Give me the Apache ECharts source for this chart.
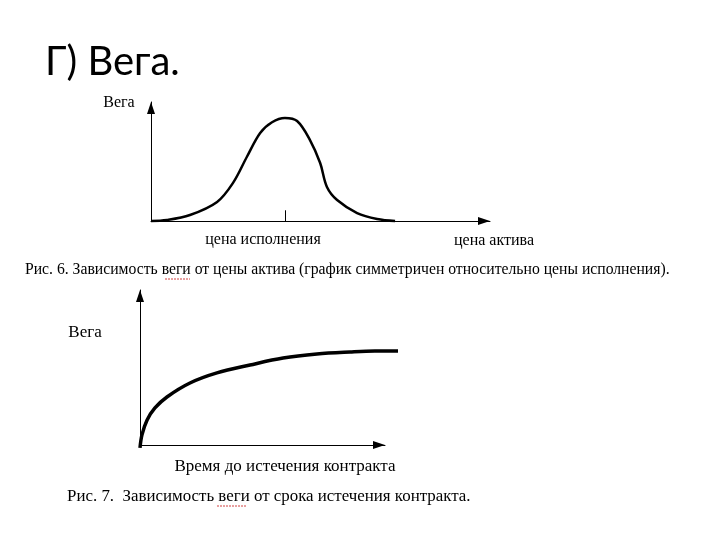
<!DOCTYPE html>
<html>
<head>
<meta charset="utf-8">
<script src="https://cdn.jsdelivr.net/npm/echarts@6/dist/echarts.min.js"></script>
<style>html,body{margin:0;padding:0;background:#fff}#c{width:720px;height:540px}</style>
</head>
<body>
<div id="c"></div>
<script>
// Fig. 6: vega vs underlying price (arbitrary units)
const priceX = [0, 4.7, 11.5, 19.5, 24.2, 28.3, 32.2, 35.7, 39.5, 43.1, 46.9, 49.9, 51.9, 54.9, 60.8, 66.7, 72];
const vegaByPrice = [0, 0.8, 5, 16, 32, 54, 74, 83, 86.6, 84, 68, 48.7, 28.6, 17.6, 6.7, 1.7, 0];
const strikeX = 39.5;
// Fig. 7: vega vs time to expiry (the curve runs a little past the axis arrow)
const timeX = [0, 0.8, 2.9, 6.1, 11, 20.4, 31.4, 44.9, 58.4, 72.2, 85.7, 95.9, 105.3];
const vegaByTime = [-1.9, 6.5, 16.1, 23.9, 31, 40, 46.5, 51.6, 56.1, 58.7, 60, 60.6, 60.6];

const titleText = 'Г) Вега.';
const yName1 = 'Вега';
const strikeLabel = 'цена исполнения';
const xName1 = 'цена актива';
const caption1 = 'Рис. 6. Зависимость веги от цены актива (график симметричен относительно цены исполнения).';
const yName2 = 'Вега';
const xName2 = 'Время до истечения контракта';
const caption2 = 'Рис. 7.  Зависимость веги от срока истечения контракта.';

const serif = '"Liberation Serif", "DejaVu Serif", serif';
const chart = echarts.init(document.getElementById('c'), null, {renderer: 'canvas'});

function axis(gi, min, max, visible) {
  return {
    type: 'value', gridIndex: gi, min: min, max: max, show: visible,
    axisLine: {show: visible, onZero: false, symbol: ['none', 'triangle'], symbolSize: [8, 12], symbolOffset: [0, -6],
      lineStyle: {color: '#000', width: 1}},
    axisTick: {show: false}, axisLabel: {show: false}, splitLine: {show: false}
  };
}
function txt(text, x, y, size, align, font) {
  return {type: 'text', x: x, y: y, style: {text: text, fill: '#000', font: size + 'px ' + (font || serif),
    textAlign: align || 'center', textVerticalAlign: 'middle'}};
}

chart.setOption({
  animation: false,
  backgroundColor: '#fff',
  grid: [
    {left: 151, top: 102, width: 339, height: 119},
    {left: 140, top: 290, width: 245, height: 155},
    // same scale as grid 1 (2.45 px per unit in x, 1.55 in y), extended so the curve can pass the arrow
    {left: 140, top: 290, width: 258, height: 162.75}
  ],
  xAxis: [axis(0, 0, 100, true), axis(1, 0, 100, true), axis(2, 0, 105.3, false)],
  yAxis: [axis(0, 0, 100, true), axis(1, 0, 100, true), axis(2, -5, 100, false)],
  series: [
    {type: 'line', xAxisIndex: 0, yAxisIndex: 0, smooth: 0.35, showSymbol: false, clip: false,
      lineStyle: {color: '#000', width: 2.5},
      data: priceX.map((x, i) => [x, vegaByPrice[i]]),
      markLine: {silent: true, symbol: 'none', label: {show: false}, lineStyle: {color: '#000', width: 1, type: 'solid'},
        data: [[{coord: [strikeX, 0]}, {coord: [strikeX, 9]}]]}},
    {type: 'line', xAxisIndex: 2, yAxisIndex: 2, smooth: 0.35, showSymbol: false, clip: false,
      lineStyle: {color: '#000', width: 3.5},
      data: timeX.map((x, i) => [x, vegaByTime[i]])}
  ],
  graphic: [
    txt(titleText, 45, 62, 40, 'left', 'Lato, "Open Sans", sans-serif'),
    txt(yName1, 119, 103, 16),
    txt(strikeLabel, 263, 240, 16),
    txt(xName1, 494, 241, 16),
    txt(caption1, 25, 270, 15.7, 'left'),
    txt(yName2, 85, 333, 17),
    txt(xName2, 285, 467, 17),
    txt(caption2, 67, 497, 16.9, 'left'),
    {type: 'line', shape: {x1: 165, y1: 279, x2: 190, y2: 279}, style: {stroke: '#d04040', lineWidth: 1, lineDash: [2, 1]}},
    {type: 'line', shape: {x1: 217, y1: 506, x2: 246, y2: 506}, style: {stroke: '#d04040', lineWidth: 1, lineDash: [2, 1]}}
  ]
});
</script>
</body>
</html>
